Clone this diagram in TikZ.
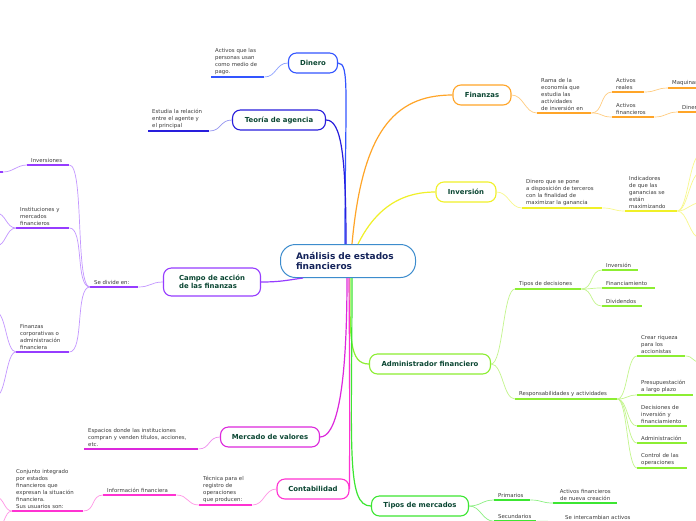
\documentclass[tikz,border=0pt]{standalone}
\usepackage{fontspec}
\setmainfont{DejaVu Sans}
\usetikzlibrary{positioning}
\definecolor{ccen}{RGB}{60,140,205}
\definecolor{ctext}{RGB}{20,35,90}
\definecolor{ntext}{RGB}{10,70,50}
\definecolor{stext}{RGB}{60,60,60}
\definecolor{cblue}{RGB}{51,85,255}
\definecolor{cbluel}{RGB}{140,160,255}
\definecolor{cind}{RGB}{40,30,220}
\definecolor{cindl}{RGB}{150,150,240}
\definecolor{corg}{RGB}{255,165,40}
\definecolor{corgl}{RGB}{255,205,130}
\definecolor{cyel}{RGB}{240,240,40}
\definecolor{cyell}{RGB}{248,248,140}
\definecolor{cpur}{RGB}{150,60,255}
\definecolor{cpurl}{RGB}{195,150,255}
\definecolor{cgrn}{RGB}{140,238,50}
\definecolor{cgrnl}{RGB}{195,245,140}
\definecolor{cmag}{RGB}{220,40,220}
\definecolor{cmagl}{RGB}{238,140,238}
\definecolor{cpnk}{RGB}{255,50,210}
\definecolor{cpnkl}{RGB}{255,150,230}
\definecolor{clim}{RGB}{60,230,50}
\definecolor{climl}{RGB}{140,240,130}

\begin{document}
\begin{tikzpicture}[x=1pt,y=-1pt,
  cen/.style={draw=ccen,rounded corners=15pt,fill=white,line width=1pt,
    font=\fontsize{9}{10.5}\selectfont\bfseries,text=ctext,align=left,
    text width=104pt,inner xsep=15.5pt,minimum height=33pt},
  main/.style={draw=#1,rounded corners=8pt,fill=white,line width=1.1pt,
    font=\fontsize{6.9}{8.2}\selectfont\bfseries,text=ntext,minimum height=20pt,inner sep=2pt},
  sub/.style={font=\fontsize{5.4}{7}\selectfont,text=stext,align=left,
    inner xsep=4pt,inner ysep=2pt,anchor=south west},
  ul/.style={draw=#1,line width=1.6pt},
  lnk/.style={draw=#1,line width=0.7pt},
  trunk/.style={draw=#1,line width=1.2pt},
  hz/.style={to path={.. controls +(#1,0) and +(-#1,0) .. (\tikztotarget)}}]
\clip (0,0) rectangle (696,520);
\fill[white] (0,0) rectangle (696,520);
% ---- centre ----
\node[cen] (cen) at (348,261) {Análisis de estados\\financieros};
% ---- Dinero ----
\node[main=cblue,minimum width=49pt] (dinero) at (313,63) {Dinero};
\node[sub,text width=45pt] (pago) at (211,77) {Activos que las\\personas usan\\como medio de\\pago.};
\draw[ul=cblue] (pago.south west) -- (pago.south east);
\draw[lnk=cbluel] (pago.south east) to[hz=12] (dinero.west);
\draw[trunk=cblue] ([xshift=-3pt]cen.north) .. controls +(0,-150) and +(12,0) .. (dinero.east);
% ---- Teoria de agencia ----
\node[main=cind,minimum width=93pt] (teoria) at (279,120) {Teoría de agencia};
\node[sub,text width=53pt] (relac) at (148,131) {Estudia la relación\\entre el agente y\\el principal};
\draw[ul=cind] (relac.south west) -- (relac.south east);
\draw[lnk=cindl] (relac.south east) to[hz=12] (teoria.west);
\draw[trunk=cind] ([xshift=-2pt]cen.north) .. controls +(0,-90) and +(15,0) .. (teoria.east);
% ---- Finanzas ----
\node[main=corg,minimum width=58pt] (fin) at (482,95) {Finanzas};
\node[sub,text width=46pt] (rama) at (537,113) {Rama de la\\economía que\\estudia las\\actividades\\de inversión en};
\node[sub,text width=24pt] (reales) at (612,92) {Activos\\reales};
\node[sub,text width=34pt] (financ) at (612,117) {Activos\\financieros};
\node[sub,text width=40pt] (maq) at (668,88) {Maquinaria};
\node[sub,text width=40pt] (dine) at (678,112) {Dinero};
\foreach \n in {rama,reales,financ,maq,dine}
  \draw[ul=corg] (\n.south west) -- (\n.south east);
\draw[lnk=corgl] (fin.east) to[hz=12] (rama.south west);
\draw[lnk=corgl] (rama.south east) to[hz=12] (reales.south west);
\draw[lnk=corgl] (rama.south east) to[hz=12] (financ.south west);
\draw[lnk=corgl] (reales.south east) to[hz=12] (maq.south west);
\draw[lnk=corgl] (financ.south east) to[hz=12] (dine.south west);
\draw[trunk=corg] ([xshift=4pt]cen.north) .. controls +(10,-110) and +(-60,0) .. (fin.west);
% ---- Inversion ----
\node[main=cyel,minimum width=60pt] (inv) at (466,192) {Inversión};
\node[sub,text width=72pt] (terc) at (522,208) {Dinero que se pone\\a disposición de terceros\\con la finalidad de\\maximizar la ganancia};
\node[sub,text width=44pt] (indic) at (625,211) {Indicadores\\de que las\\ganancias se\\están\\maximizando};
\foreach \n in {terc,indic}
  \draw[ul=cyel] (\n.south west) -- (\n.south east);
\draw[lnk=cyell] (inv.east) to[hz=12] (terc.south west);
\draw[lnk=cyell] (terc.south east) to[hz=12] (indic.south west);
\coordinate (i1) at (700,155);
\coordinate (i2) at (700,173);
\coordinate (i3) at (700,203);
\coordinate (i4) at (700,238);
\foreach \c in {i1,i2,i3,i4}
  \draw[lnk=cyell] (indic.south east) to[hz=10] (\c);
\draw[trunk=cyel] ([xshift=10pt]cen.north) .. controls +(15,-30) and +(-40,0) .. (inv.west);
% ---- Campo de accion ----
\node[main=cpur,minimum width=97pt,minimum height=28pt,align=left] (campo) at (212,282) {Campo de acción\\de las finanzas};
\node[sub,text width=40pt] (divide) at (90,287) {Se divide en:};
\node[sub,text width=34pt] (invs) at (27,165) {Inversiones};
\node[sub,text width=45pt] (instit) at (16,228) {Instituciones y\\mercados\\financieros};
\node[sub,text width=45pt] (fcorp) at (16,352) {Finanzas\\corporativas o\\administración\\financiera};
\foreach \n in {divide,invs,instit,fcorp}
  \draw[ul=cpur] (\n.south west) -- (\n.south east);
\draw[lnk=cpurl] (campo.west) to[hz=-12] (divide.south east);
\draw[lnk=cpurl] (divide.south west) to[hz=-15] (invs.south east);
\draw[lnk=cpurl] (divide.south west) to[hz=-15] (instit.south east);
\draw[lnk=cpurl] (divide.south west) to[hz=-15] (fcorp.south east);
\coordinate (l1) at (3,172);
\coordinate (l2) at (-4,213);
\coordinate (l3) at (-4,246);
\coordinate (l4) at (-4,312);
\coordinate (l5) at (-4,396);
\draw[ul=cpur] (l1) -- +(-20,0);
\draw[lnk=cpurl] (invs.south west) to[hz=-10] (l1);
\draw[lnk=cpurl] (instit.south west) to[hz=-10] (l2);
\draw[lnk=cpurl] (instit.south west) to[hz=-10] (l3);
\draw[lnk=cpurl] (fcorp.south west) to[hz=-10] (l4);
\draw[lnk=cpurl] (fcorp.south west) to[hz=-10] (l5);
\draw[trunk=cpur] (campo.east) .. controls +(20,0) and +(-15,2) .. ([xshift=-45pt]cen.south);
% ---- Administrador financiero ----
\node[main=cgrn,minimum width=121pt] (admin) at (430,364) {Administrador financiero};
\node[sub,text width=58pt] (tdec) at (515,289) {Tipos de decisiones};
\node[sub,text width=94pt] (resp) at (515,399) {Responsabilidades y actividades};
\node[sub,text width=28pt] (dinv) at (602,270) {Inversión};
\node[sub,text width=45pt] (dfin) at (602,288) {Financiamiento};
\node[sub,text width=32pt] (ddiv) at (602,306) {Dividendos};
\node[sub,text width=40pt] (crear) at (637,356) {Crear riqueza\\para los\\accionistas};
\node[sub,text width=48pt] (presup) at (637,395) {Presupuestación\\a largo plazo};
\node[sub,text width=42pt] (decis) at (637,426) {Decisiones de\\inversión y\\financiamiento};
\node[sub,text width=42pt] (admon) at (637,443) {Administración};
\node[sub,text width=42pt] (control) at (637,468) {Control de las\\operaciones};
\foreach \n in {tdec,resp,dinv,dfin,ddiv,crear,presup,decis,admon,control}
  \draw[ul=cgrn] (\n.south west) -- (\n.south east);
\draw[lnk=cgrnl] (admin.east) to[hz=12] (tdec.south west);
\draw[lnk=cgrnl] (admin.east) to[hz=12] (resp.south west);
\foreach \n in {dinv,dfin,ddiv}
  \draw[lnk=cgrnl] (tdec.south east) to[hz=12] (\n.south west);
\foreach \n in {crear,presup,decis,admon,control}
  \draw[lnk=cgrnl] (resp.south east) to[hz=10] (\n.south west);
\coordinate (a1) at (700,362);
\draw[lnk=cgrnl] (crear.south east) to[hz=8] (a1);
\draw[trunk=cgrn] ([xshift=2pt]cen.south) .. controls +(0,60) and +(-20,0) .. (admin.west);
% ---- Mercado de valores ----
\node[main=cmag,minimum width=99pt] (mercado) at (270,437) {Mercado de valores};
\node[sub,text width=106pt] (espacios) at (84,449) {Espacios donde las instituciones\\compran y venden títulos, acciones,\\etc.};
\draw[ul=cmag] (espacios.south west) -- (espacios.south east);
\draw[lnk=cmagl] (mercado.west) to[hz=-12] (espacios.south east);
\draw[trunk=cmag] ([xshift=-1pt]cen.south) .. controls +(0,120) and +(15,0) .. (mercado.east);
% ---- Contabilidad ----
\node[main=cpnk,minimum width=72pt] (contab) at (313,489) {Contabilidad};
\node[sub,text width=45pt] (tecnica) at (199,505) {Técnica para el\\registro de\\operaciones\\que producen:};
\node[sub,text width=65pt] (infofin) at (103,495) {Información financiera};
\node[sub,text width=63pt] (conj) at (12,511) {Conjunto integrado\\por estados\\financieros que\\expresan la situación\\financiera.\\Sus usuarios son:};
\foreach \n in {tecnica,infofin,conj}
  \draw[ul=cpnk] (\n.south west) -- (\n.south east);
\draw[lnk=cpnkl] (contab.west) to[hz=-12] (tecnica.south east);
\draw[lnk=cpnkl] (tecnica.south west) to[hz=-12] (infofin.south east);
\draw[lnk=cpnkl] (infofin.south west) to[hz=-12] (conj.south east);
\coordinate (c1) at (-4,497);
\coordinate (c2) at (-4,530);
\draw[lnk=cpnkl] (conj.south west) to[hz=-8] (c1);
\draw[lnk=cpnkl] (conj.south west) to[hz=-8] (c2);
\draw[trunk=cpnk] ([xshift=1pt]cen.south) .. controls +(1,150) and +(0,-60) .. (contab.east);
% ---- Tipos de mercados ----
\node[main=clim,minimum width=97pt] (tiposm) at (420,506) {Tipos de mercados};
\node[sub,text width=28pt] (prim) at (494,500) {Primarios};
\node[sub,text width=34pt] (secund) at (494,521.2) {Secundarios};
\node[sub,text width=56pt,align=center] (nueva) at (553,503) {Activos financieros\\de nueva creación};
\node[sub,text width=72pt] (interc) at (561,521.5) {Se intercambian activos};
\foreach \n in {prim,secund,nueva,interc}
  \draw[ul=clim] (\n.south west) -- (\n.south east);
\draw[lnk=climl] (tiposm.east) to[hz=12] (prim.south west);
\draw[lnk=climl] (tiposm.east) to[hz=12] (secund.south west);
\draw[lnk=climl] (prim.south east) to[hz=12] (nueva.south west);
\draw[lnk=climl] (secund.south east) to[hz=12] (interc.south west);
\draw[trunk=clim] ([xshift=4pt]cen.south) .. controls +(0,170) and +(-25,0) .. (tiposm.west);
\end{tikzpicture}
\end{document}
